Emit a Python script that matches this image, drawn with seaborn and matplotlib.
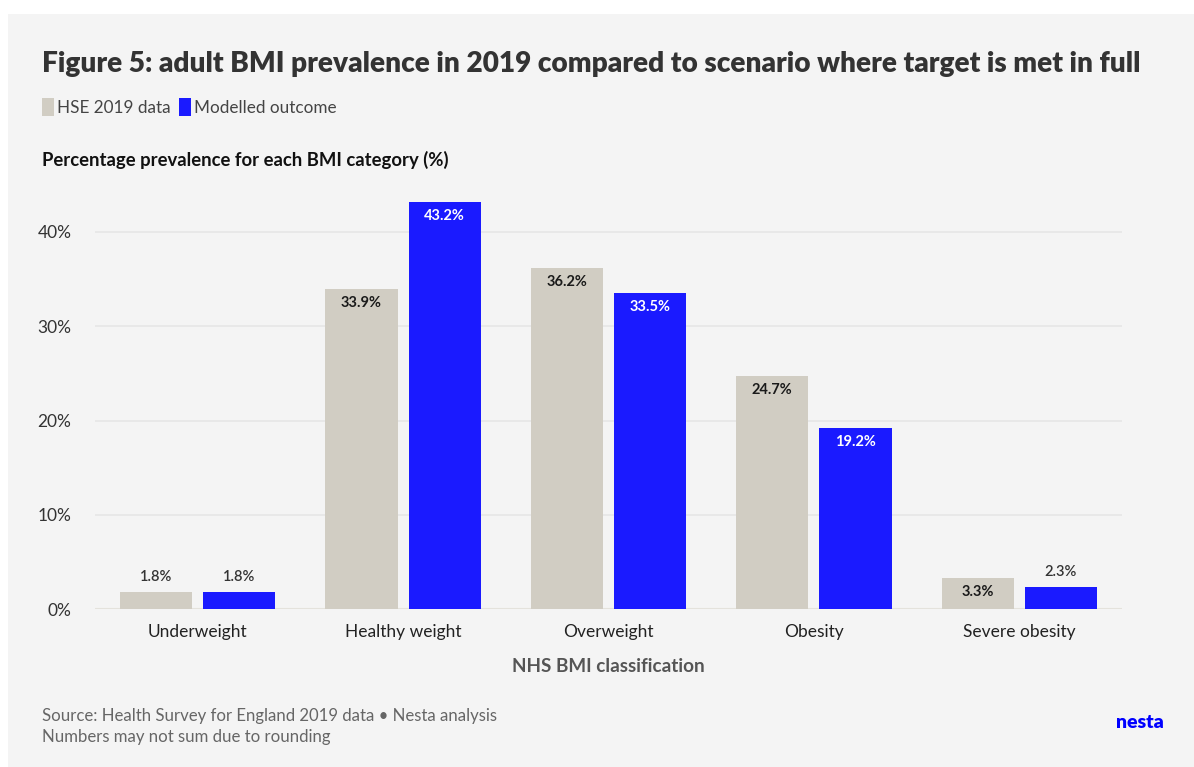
import matplotlib
matplotlib.use("Agg")
import matplotlib.pyplot as plt
from matplotlib.patches import Rectangle, Patch
import seaborn as sns
import pandas as pd

categories = ["Underweight", "Healthy weight", "Overweight", "Obesity", "Severe obesity"]
series_names = ["HSE 2019 data", "Modelled outcome"]
hse_2019 = [1.8, 33.9, 36.2, 24.7, 3.3]
modelled = [1.8, 43.2, 33.5, 19.2, 2.3]
y_ticks = [0, 10, 20, 30, 40]
y_tick_labels = ["0%", "10%", "20%", "30%", "40%"]

GRAY = "#d1cdc3"
BLUE = "#1a1aff"
BG = "#f4f4f4"

df = pd.DataFrame({
    "category": categories * 2,
    "value": hse_2019 + modelled,
    "series": [series_names[0]] * len(categories) + [series_names[1]] * len(categories),
})

sns.set_theme(style="white")
plt.rcParams["font.family"] = ["Lato", "DejaVu Sans"]

W, H = 1194, 767
fig = plt.figure(figsize=(W / 100, H / 100), dpi=100, facecolor="white")
fig.patches.append(Rectangle((8 / W, 0), 1 - 8 / W, (H - 14) / H, transform=fig.transFigure,
                             facecolor=BG, edgecolor="none", zorder=-10))

ymax = 45
px_per_unit = (609 - 232) / 40
ax_top = 609 - ymax * px_per_unit
ax = fig.add_axes([95 / W, (H - 609) / H, (1122 - 95) / W, (609 - ax_top) / H])
ax.set_facecolor("none")

sns.barplot(data=df, x="category", y="value", hue="series", hue_order=series_names,
            palette=[GRAY, BLUE], width=0.81, gap=0.13, ax=ax, legend=False,
            linewidth=0, saturation=1, zorder=3)

ax.set_ylim(0, ymax)
ax.set_yticks(y_ticks)
ax.set_yticklabels(y_tick_labels)
ax.grid(axis="y", color="#e6e6e6", linewidth=1.2, zorder=0)
ax.axhline(0, color="#e4e2dc", linewidth=1.5, zorder=2)
for s in ax.spines.values():
    s.set_visible(False)
ax.tick_params(axis="y", length=0, pad=17, labelsize=12.5, labelcolor="#333333")
ax.tick_params(axis="x", length=0, pad=11, labelsize=12.5, labelcolor="#222222")
ax.set_xlabel("")
ax.set_ylabel("")

for cont, vals, col_in in zip(ax.containers, [hse_2019, modelled], ["#1a1a1a", "white"]):
    for bar, v in zip(cont.patches, vals):
        cx = bar.get_x() + bar.get_width() / 2
        if v < 3:
            ax.annotate(f"{v:.1f}%", (cx, v), xytext=(0, 6), textcoords="offset points",
                        ha="center", va="bottom", fontsize=10.5, color="#333333",
                        fontweight="semibold", zorder=5)
        else:
            ax.annotate(f"{v:.1f}%", (cx, v), xytext=(0, -5), textcoords="offset points",
                        ha="center", va="top", fontsize=10.5, color=col_in,
                        fontweight="bold", zorder=5)

# Title and texts
fig.text(42 / W, 1 - 64 / H, "Figure 5: adult BMI prevalence in 2019 compared to scenario where target is met in full",
         fontsize=20.2, fontweight="heavy", color="#333333", va="center", ha="left")

handles = [Patch(facecolor=GRAY, edgecolor="none"), Patch(facecolor=BLUE, edgecolor="none")]
fig.legend(handles, series_names, loc="center left", bbox_to_anchor=(27 / W, 1 - 107 / H),
           ncol=2, frameon=False, handlelength=0.7, handleheight=1.3, handletextpad=0.15,
           columnspacing=0.5, fontsize=12.3, labelcolor="#444444")

fig.text(42 / W, 1 - 160 / H, "Percentage prevalence for each BMI category (%)",
         fontsize=13.3, fontweight="bold", color="#111111", va="center", ha="left")

fig.text(608 / W, 1 - 667 / H, "NHS BMI classification", fontsize=13.6, fontweight="bold",
         color="#555555", va="center", ha="center")

fig.text(42 / W, 1 - 716 / H, "Source: Health Survey for England 2019 data \u2022 Nesta analysis",
         fontsize=12.05, color="#666666", va="center", ha="left")
fig.text(42 / W, 1 - 737 / H, "Numbers may not sum due to rounding",
         fontsize=12.05, color="#666666", va="center", ha="left")
fig.text(1140 / W, 1 - 723 / H, "nesta", fontsize=14, fontweight="heavy", color="#0000ff",
         va="center", ha="center")

fig.savefig("out.png", dpi=100, facecolor="white")
